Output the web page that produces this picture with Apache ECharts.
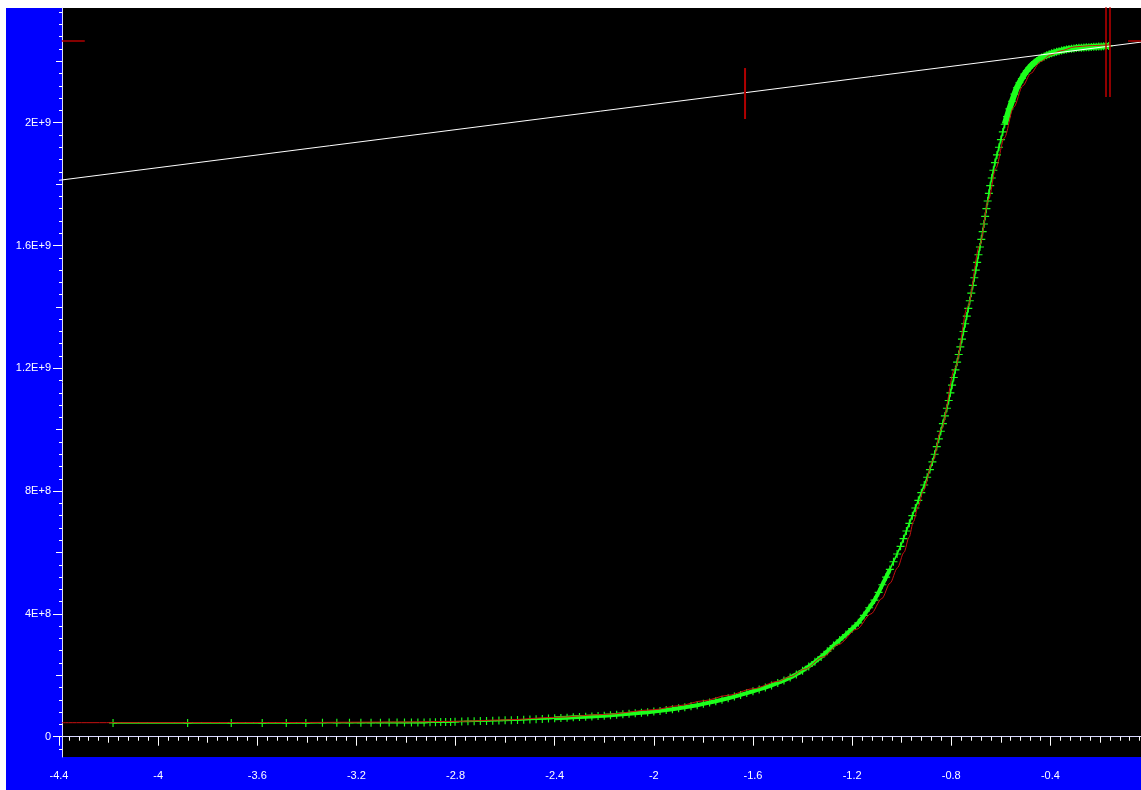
<!DOCTYPE html>
<html><head><meta charset="utf-8">
<script src="https://cdn.jsdelivr.net/npm/echarts@6/dist/echarts.min.js"></script>
<style>html,body{margin:0;padding:0;background:#ffffff;} #c{width:1141px;height:790px;}</style>
</head><body><div id="c"></div>
<script>
// ---- measured data (green "+" points) ----
const greenX = [
 -4.182,-3.881,-3.705,-3.580,-3.483,-3.404,-3.337,-3.279,-3.228,-3.182,-3.141,-3.103,-3.068,-3.036,-3.006,-2.978,-2.952,-2.927,-2.903,-2.881,-2.860,-2.840,-2.820,-2.802,
 -2.775,-2.750,-2.725,-2.700,-2.675,-2.650,-2.625,-2.600,-2.575,-2.550,-2.525,-2.500,-2.475,-2.450,-2.425,-2.400,-2.375,-2.350,-2.325,-2.300,-2.275,-2.250,-2.225,
 -2.200,-2.175,-2.150,-2.125,-2.100,-2.075,-2.050,-2.025,-2.000,-1.975,-1.950,-1.925,-1.900,-1.875,-1.850,-1.825,-1.800,-1.775,-1.750,-1.725,-1.700,-1.675,-1.650,
 -1.625,-1.600,-1.575,-1.550,-1.525,-1.500,-1.475,-1.450,-1.425,-1.400,-1.375,-1.350,-1.325,-1.300,-1.275,-1.250,-1.225,-1.200,-1.175,
 -1.1525,-1.1312,-1.1098,-1.0930,-1.0779,-1.0628,-1.0477,-1.0331,-1.0185,-1.0045,-0.9927,-0.9809,-0.9690,-0.9570,-0.9449,-0.9328,-0.9208,-0.9090,-0.8972,
 -0.8860,-0.8760,-0.8670,-0.8585,-0.8502,-0.8420,-0.8338,-0.8256,-0.8175,-0.8102,-0.8034,-0.7967,-0.7899,-0.7831,-0.7764,-0.7699,-0.7634,-0.7568,-0.7503,
 -0.7438,-0.7373,-0.7312,-0.7252,-0.7191,-0.7130,-0.7069,-0.7011,-0.6955,-0.6900,-0.6844,-0.6788,-0.6732,-0.6681,-0.6631,-0.6581,-0.6531,-0.6481,-0.6428,
 -0.6365,-0.6301,-0.6236,-0.6155,-0.6075,-0.5996,-0.5919,-0.5842,-0.5749,-0.5653,
 -0.555,-0.545,-0.535,-0.525,-0.515,-0.505,-0.495,-0.485,-0.475,-0.465,-0.455,-0.445,-0.435,-0.425,-0.415,-0.405,-0.395,-0.385,-0.375,-0.365,
 -0.355,-0.345,-0.335,-0.325,-0.315,-0.305,-0.295,-0.285,-0.275,-0.265,-0.255,-0.245,-0.235,-0.225,-0.215,-0.205,-0.195,-0.185,-0.175,-0.165
];
const greenY = [
 4.5e7,4.5e7,4.5e7,4.5e7,4.5e7,4.5e7,4.55e7,4.55e7,4.55e7,4.55e7,4.55e7,4.55e7,4.6e7,4.6e7,4.6e7,4.6e7,4.6e7,4.6e7,4.7e7,4.7e7,4.75e7,4.75e7,4.8e7,4.85e7,
 4.95e7,5.00e7,5.05e7,5.10e7,5.15e7,5.20e7,5.26e7,5.33e7,5.39e7,5.46e7,5.54e7,5.62e7,5.71e7,5.80e7,5.90e7,6.00e7,6.10e7,6.20e7,6.30e7,6.40e7,6.50e7,6.61e7,6.72e7,
 6.84e7,6.98e7,7.13e7,7.29e7,7.45e7,7.62e7,7.80e7,7.98e7,8.17e7,8.41e7,8.67e7,8.95e7,9.25e7,9.57e7,9.91e7,10.27e7,10.70e7,11.12e7,11.57e7,12.04e7,12.54e7,13.06e7,13.62e7,
 14.20e7,14.80e7,15.41e7,16.03e7,16.72e7,17.50e7,18.32e7,19.25e7,20.30e7,21.50e7,22.90e7,24.40e7,26.00e7,27.80e7,29.70e7,31.50e7,33.30e7,35.20e7,37.10e7,
 3.95e8,4.20e8,4.45e8,4.70e8,4.95e8,5.20e8,5.45e8,5.70e8,5.95e8,6.20e8,6.45e8,6.70e8,6.95e8,7.20e8,7.45e8,7.70e8,7.95e8,8.20e8,8.45e8,
 8.70e8,8.95e8,9.20e8,9.45e8,9.70e8,9.95e8,10.20e8,10.45e8,10.70e8,10.95e8,11.20e8,11.45e8,11.70e8,11.95e8,12.20e8,12.45e8,12.70e8,12.95e8,13.20e8,
 13.45e8,13.70e8,13.95e8,14.20e8,14.45e8,14.70e8,14.95e8,15.20e8,15.45e8,15.70e8,15.95e8,16.20e8,16.45e8,16.70e8,16.95e8,17.20e8,17.45e8,17.70e8,17.95e8,
 18.20e8,18.45e8,18.70e8,18.95e8,19.20e8,19.45e8,19.70e8,19.95e8,20.20e8,20.45e8,
 20.70e8,20.93e8,21.14e8,21.30e8,21.44e8,21.58e8,21.69e8,21.79e8,21.88e8,21.95e8,22.01e8,22.07e8,22.12e8,22.16e8,22.20e8,22.23e8,22.26e8,22.285e8,22.31e8,22.33e8,
 22.35e8,22.37e8,22.385e8,22.40e8,22.41e8,22.42e8,22.43e8,22.44e8,22.445e8,22.45e8,22.455e8,22.46e8,22.465e8,22.47e8,22.475e8,22.48e8,22.485e8,22.49e8,22.495e8,22.50e8
];
// ---- red fitted curve ----
const redX = [-4.3887,-3.5,-3.0,-2.8,-2.6,-2.4,-2.2,-2.0,-1.9,-1.8,-1.7,-1.6,-1.5,-1.45,-1.391,-1.317,-1.256,-1.1815,-1.124,-1.080,-1.047,-1.017,
 -0.991,-0.970,-0.953,-0.9335,-0.9134,-0.8732,-0.8414,-0.7848,-0.734,-0.6853,-0.6491,-0.6208,-0.5861,-0.5482,-0.5113,-0.48,-0.44,-0.40,-0.36,-0.30,-0.24,-0.16];
const redY = [4.56e7,4.62e7,4.80e7,5.0e7,5.48e7,6.30e7,7.24e7,8.80e7,1.01e8,1.17e8,1.35e8,1.56e8,1.80e8,1.955e8,2.2e8,2.6e8,3.0e8,3.5e8,4.0e8,4.5e8,5.0e8,5.5e8,
 6.0e8,6.5e8,7.0e8,7.5e8,8.0e8,9.0e8,10.0e8,12.0e8,14.0e8,16.0e8,17.5e8,18.5e8,19.5e8,20.5e8,21.2e8,21.6e8,21.99e8,22.2e8,22.34e8,22.47e8,22.51e8,22.535e8];
// ---- white straight line ----
const whiteX = [-4.4, 0];
const whiteY = [1.8123e9, 2.2660e9];
// ---- red cursor marks ----
const cursorAX = [-1.632, -1.632];   const cursorAY = [2.012e9, 2.178e9];
const cursorBX = [-0.1756, -0.1756]; const cursorBY = [2.0837e9, 2.45e9];
const cursorCX = [-0.1595, -0.1595]; const cursorCY = [2.0837e9, 2.45e9];
const levelLX = [-4.3887, -4.296];   const levelLY = [2.2661e9, 2.2661e9];
const levelRX = [-0.0869, 0.05];     const levelRY = [2.2661e9, 2.2661e9];
// ---- axes ----
const xTickLabels = [-4.4,-4,-3.6,-3.2,-2.8,-2.4,-2,-1.6,-1.2,-0.8,-0.4];
const yTickLabels = [0,4e8,8e8,1.2e9,1.6e9,2e9];
const X_MIN = -4.4, X_MAX = -0.0344, Y_MIN = -6.61e7, Y_MAX = 2.3736e9;

const xMid = [], xMinor = [], yMid = [], yMinor = [];
for (let k = 0; X_MIN + k * 0.2 <= X_MAX; k++) xMid.push(+(X_MIN + k * 0.2).toFixed(3));
for (let k = 0; X_MIN + k * 0.04 <= X_MAX; k++) xMinor.push(+(X_MIN + k * 0.04).toFixed(3));
for (let k = 0; k * 2e8 <= Y_MAX; k++) yMid.push(k * 2e8);
for (let k = -1; k * 4e7 <= Y_MAX; k++) yMinor.push(k * 4e7);

const zip = (a, b) => a.map((v, i) => [v, b[i]]);
const greenPts = zip(greenX, greenY);
// where the measured points are packed so tightly that their markers merge into a solid band
const band1 = greenPts.filter(p => p[0] >= -2.4 && p[0] <= -1.045);
const band2 = greenPts.filter(p => p[0] >= -0.585);

const FONT = 'Liberation Sans';
const plus = 'path://M3,0H4V3H7V4H4V7H3V4H0V3H3Z';
const GREEN = '#1cff1c', RED = '#c81010';

function yFmt(v) {
  if (v === 0) return '0';
  const e = Math.floor(Math.log10(Math.abs(v)) + 1e-9);
  const m = +(v / Math.pow(10, e)).toFixed(3);
  return m + 'E+' + e;
}

function xAx(vals, len, labels) {
  return {
    type: 'value', min: X_MIN, max: X_MAX, position: 'bottom', gridIndex: 0,
    axisLine: { show: labels, lineStyle: { color: '#d8d8ff', width: 1 } },
    axisTick: { show: true, customValues: vals, length: len, lineStyle: { color: '#ffffff', width: 1 } },
    axisLabel: labels ? { show: true, customValues: vals, color: '#ffffff', fontFamily: FONT, fontSize: 11, margin: 13, formatter: v => String(v) } : { show: false },
    splitLine: { show: false }, minorTick: { show: false }
  };
}
function yAx(vals, len, labels) {
  return {
    type: 'value', min: Y_MIN, max: Y_MAX, position: 'left', offset: -3, gridIndex: 0,
    axisLine: { show: labels, lineStyle: { color: '#d8d8ff', width: 1 } },
    axisTick: { show: true, customValues: vals, length: len, lineStyle: { color: '#ffffff', width: 1 } },
    axisLabel: labels ? { show: true, customValues: vals, color: '#ffffff', fontFamily: FONT, fontSize: 11, margin: 11, formatter: yFmt } : { show: false },
    splitLine: { show: false }, minorTick: { show: false }
  };
}
function seg(data, color, width, z) {
  return { type: 'line', data: data, symbol: 'none', silent: true, clip: true, z: z,
    lineStyle: { color: color, width: width }, animation: false };
}

const chart = echarts.init(document.getElementById('c'), null, { renderer: 'canvas' });
chart.setOption({
  animation: false,
  backgroundColor: '#ffffff',
  graphic: [
    { type: 'rect', z: -20, silent: true, shape: { x: 6, y: 8, width: 1135, height: 782 }, style: { fill: '#0000ff' } },
    { type: 'rect', z: -19, silent: true, shape: { x: 62, y: 8, width: 1079, height: 749 }, style: { fill: '#000000' } }
  ],
  grid: { left: 59, right: 0, top: 8, bottom: 33, show: false },
  xAxis: [xAx(xTickLabels, 9, true), xAx(xMid, 6, false), xAx(xMinor, 4, false)],
  yAxis: [yAx(yTickLabels, 9, true), yAx(yMid, 6, false), yAx(yMinor, 3, false)],
  series: [
    seg(band1, GREEN, 4, 2),
    seg(band2, GREEN, 6, 2),
    { type: 'line', data: greenPts, symbol: plus, symbolSize: 8, showAllSymbol: true,
      silent: true, clip: true, z: 2, lineStyle: { color: GREEN, width: 1.6 }, itemStyle: { color: GREEN }, animation: false },
    Object.assign(seg(zip(redX, redY), RED, 1, 3), { smooth: 0.3, smoothMonotone: 'x' }),
    seg(zip(whiteX, whiteY), '#ffffff', 1, 4),
    seg(zip(cursorAX, cursorAY), '#b00000', 2, 5),
    seg(zip(cursorBX, cursorBY), '#c00000', 1.5, 5),
    seg(zip(cursorCX, cursorCY), '#c00000', 1.5, 5),
    seg(zip(levelLX, levelLY), '#b00000', 1.5, 5),
    seg(zip(levelRX, levelRY), '#b00000', 1.5, 5)
  ]
});
</script>
</body></html>
